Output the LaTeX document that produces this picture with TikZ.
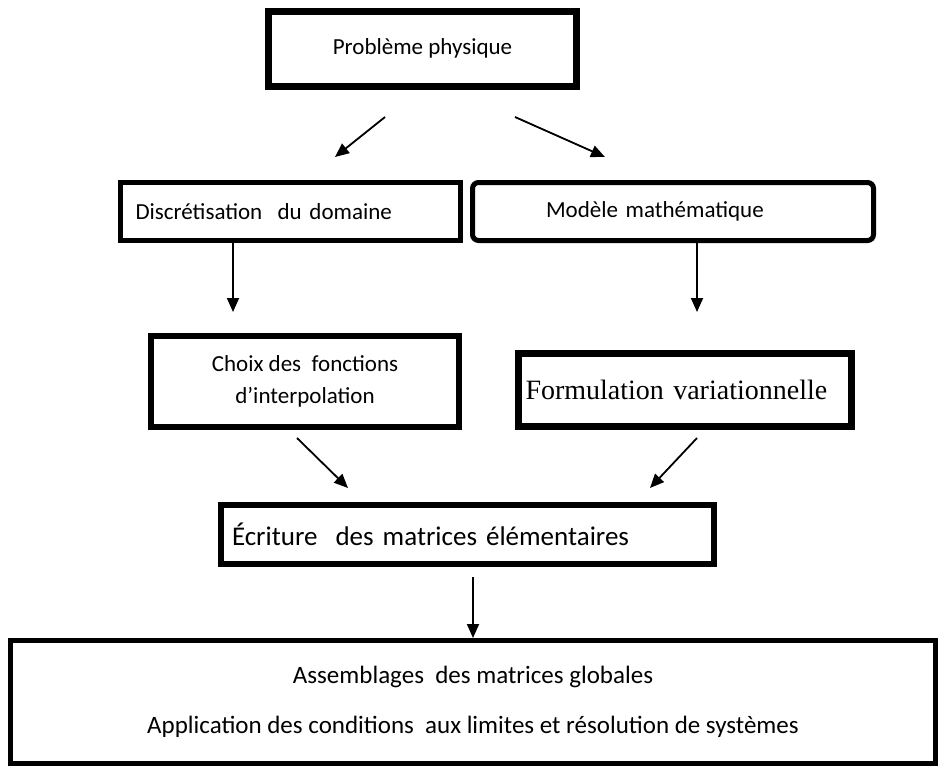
\documentclass[tikz,border=0pt]{standalone}
\usepackage{fontspec}
\setmainfont{Carlito}
\newfontfamily\timesf{Liberation Serif}
\usetikzlibrary{arrows.meta,calc}

\begin{document}
\begin{tikzpicture}[x=1pt, y=-1pt,
    boite/.style={draw, inner sep=0pt, font=\fontsize{23}{32}\selectfont},
    fleche/.style={line width=1.8pt, -{Triangle[length=14pt,width=12pt]}}]

    % cadre de la page
    \useasboundingbox (0,0) rectangle (942,773);

    % 1. les boites
    \node[boite, line width=7pt, minimum width=308pt, minimum height=75pt] (prob) at (422.5,49) {\raisebox{4pt}{Problème physique}};

    \node[boite, line width=5pt, minimum height=58pt, text width=310pt, inner xsep=15pt, align=left] (disc) at (290.5,211.5) {Discrétisation\ \ du domaine};
    \node[boite, line width=5pt, rounded corners=6pt, minimum height=58pt, text width=254pt, inner xsep=73.5pt, align=left] (mod) at (673,211.5) {Modèle mathématique};

    \node[boite, line width=6pt, minimum width=308pt, minimum height=91pt, align=center] (choix) at (305,381.5) {Choix des\ \ fonctions\\d’interpolation};
    \node[boite, line width=7pt, minimum height=73pt, text width=319pt, inner xsep=7pt, align=left, font=\timesf\fontsize{28}{30}\selectfont] (form) at (685,390) {Formulation variationnelle};

    \node[boite, line width=6pt, minimum height=59pt, text width=471pt, inner xsep=11pt, align=left, font=\fontsize{27}{30}\selectfont] (ecri) at (467.5,534.5) {Écriture\ \ des matrices élémentaires};

    \node[boite, line width=5pt, minimum width=925pt, minimum height=123pt, align=center, font=\fontsize{25}{50}\selectfont] (assem) at (473,702) {Assemblages\ \ des matrices globales\\Application des conditions\ \ aux limites et résolution de systèmes};

    % 2. les fleches
    \coordinate (a1) at (385,117);
    \coordinate (a2) at (335,157);
    \coordinate (b1) at (515,117);
    \coordinate (b2) at (605,157);
    \draw[fleche] (a1) -- (a2);
    \draw[fleche] (b1) -- (b2);

    \coordinate (c2) at (233,312);
    \coordinate (d2) at (697,312);
    \draw[fleche] (disc.south -| c2) -- (c2);
    \draw[fleche] (mod.south -| d2) -- (d2);

    \coordinate (e1) at (297,438);
    \coordinate (e2) at (348,488);
    \coordinate (f1) at (697,438);
    \coordinate (f2) at (650,488);
    \draw[fleche] (e1) -- (e2);
    \draw[fleche] (f1) -- (f2);

    \coordinate (g1) at (473,577);
    \draw[fleche] (g1) -- (assem.north -| g1);

\end{tikzpicture}
\end{document}
